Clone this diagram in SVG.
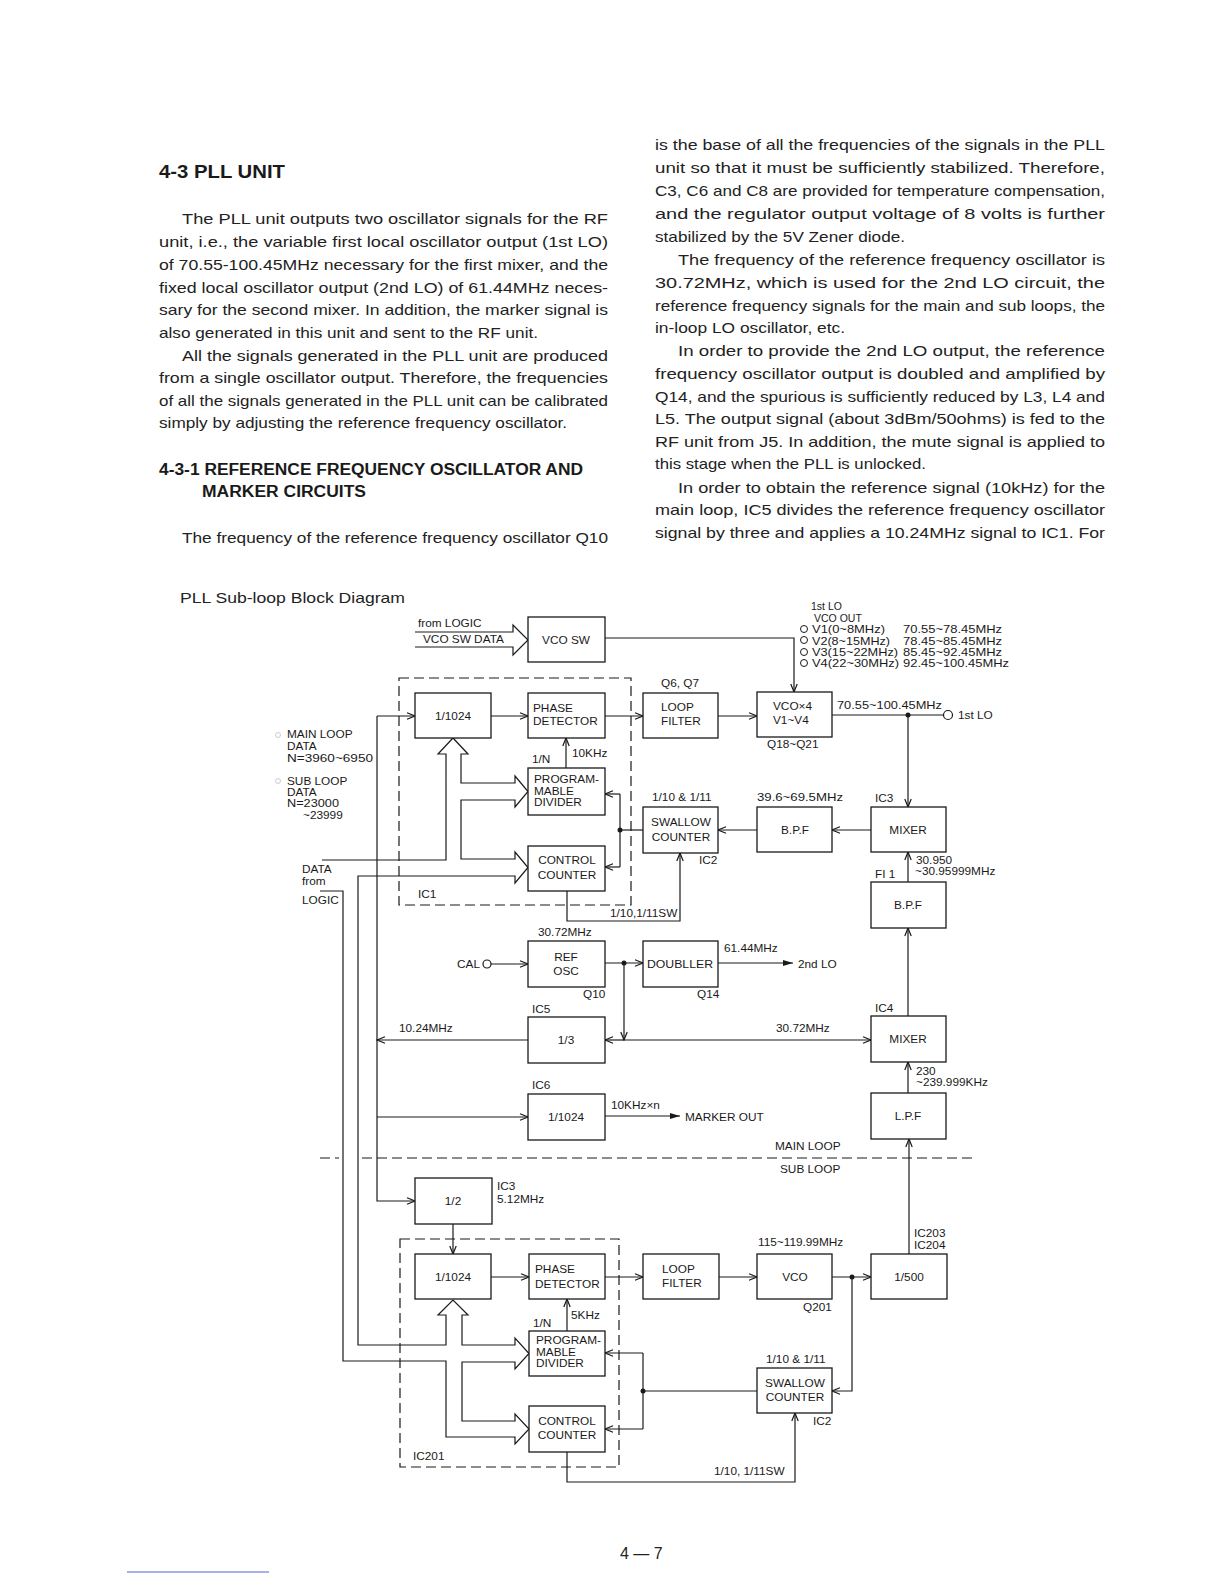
<svg xmlns="http://www.w3.org/2000/svg" width="1224" height="1584" viewBox="0 0 1224 1584">
<defs>
<style>
.body{font-family:"Liberation Sans",Arial,sans-serif;font-size:15px;fill:#222}
.hd{font-family:"Liberation Sans",Arial,sans-serif;font-weight:bold;fill:#1a1a1a}
.t{font-family:"Liberation Sans",Arial,sans-serif;font-size:11.8px;fill:#1a1a1a}
.s{font-family:"Liberation Sans",Arial,sans-serif;font-size:10.5px;fill:#1a1a1a}
.m{text-anchor:middle}
.box{fill:#fff;stroke:#1a1a1a;stroke-width:1.3}
.w{fill:none;stroke:#1a1a1a;stroke-width:1.2}
.dash{fill:none;stroke:#1a1a1a;stroke-width:1.2;stroke-dasharray:10,5}
.dot{fill:#1a1a1a}
</style>
<marker id="a" markerWidth="10" markerHeight="8" refX="9" refY="4" orient="auto" markerUnits="userSpaceOnUse"><path d="M1,0.8 L9,4 L1,7.2" fill="none" stroke="#1a1a1a" stroke-width="1.2"/></marker>
<marker id="f" markerWidth="11" markerHeight="8" refX="10" refY="4" orient="auto" markerUnits="userSpaceOnUse"><path d="M0,1 L10,4 L0,7 Z" fill="#1a1a1a"/></marker>
</defs>
<rect width="1224" height="1584" fill="#fff"/>

<g id="text-col1">
<text class="hd" x="159" y="178" font-size="19" textLength="126" lengthAdjust="spacingAndGlyphs">4-3 PLL UNIT</text>
<text class="body" x="182" y="224" textLength="426" lengthAdjust="spacingAndGlyphs">The PLL unit outputs two oscillator signals for the RF</text>
<text class="body" x="159" y="247" textLength="449" lengthAdjust="spacingAndGlyphs">unit, i.e., the variable first local oscillator output (1st LO)</text>
<text class="body" x="159" y="270" textLength="449" lengthAdjust="spacingAndGlyphs">of 70.55-100.45MHz necessary for the first mixer, and the</text>
<text class="body" x="159" y="293" textLength="449" lengthAdjust="spacingAndGlyphs">fixed local oscillator output (2nd LO) of 61.44MHz neces-</text>
<text class="body" x="159" y="315" textLength="449" lengthAdjust="spacingAndGlyphs">sary for the second mixer. In addition, the marker signal is</text>
<text class="body" x="159" y="338" textLength="379" lengthAdjust="spacingAndGlyphs">also generated in this unit and sent to the RF unit.</text>
<text class="body" x="182" y="361" textLength="426" lengthAdjust="spacingAndGlyphs">All the signals generated in the PLL unit are produced</text>
<text class="body" x="159" y="383" textLength="449" lengthAdjust="spacingAndGlyphs">from a single oscillator output. Therefore, the frequencies</text>
<text class="body" x="159" y="406" textLength="449" lengthAdjust="spacingAndGlyphs">of all the signals generated in the PLL unit can be calibrated</text>
<text class="body" x="159" y="428" textLength="408" lengthAdjust="spacingAndGlyphs">simply by adjusting the reference frequency oscillator.</text>
<text class="hd" x="159" y="475" font-size="16" textLength="424" lengthAdjust="spacingAndGlyphs">4-3-1 REFERENCE FREQUENCY OSCILLATOR AND</text>
<text class="hd" x="202" y="497" font-size="16" textLength="164" lengthAdjust="spacingAndGlyphs">MARKER CIRCUITS</text>
<text class="body" x="182" y="543" textLength="426" lengthAdjust="spacingAndGlyphs">The frequency of the reference frequency oscillator Q10</text>
</g>

<g id="text-col2">
<text class="body" x="655" y="150" textLength="450" lengthAdjust="spacingAndGlyphs">is the base of all the frequencies of the signals in the PLL</text>
<text class="body" x="655" y="173" textLength="450" lengthAdjust="spacingAndGlyphs">unit so that it must be sufficiently stabilized. Therefore,</text>
<text class="body" x="655" y="196" textLength="450" lengthAdjust="spacingAndGlyphs">C3, C6 and C8 are provided for temperature compensation,</text>
<text class="body" x="655" y="219" textLength="450" lengthAdjust="spacingAndGlyphs">and the regulator output voltage of 8 volts is further</text>
<text class="body" x="655" y="242" textLength="250" lengthAdjust="spacingAndGlyphs">stabilized by the 5V Zener diode.</text>
<text class="body" x="678" y="265" textLength="427" lengthAdjust="spacingAndGlyphs">The frequency of the reference frequency oscillator is</text>
<text class="body" x="655" y="288" textLength="450" lengthAdjust="spacingAndGlyphs">30.72MHz, which is used for the 2nd LO circuit, the</text>
<text class="body" x="655" y="311" textLength="450" lengthAdjust="spacingAndGlyphs">reference frequency signals for the main and sub loops, the</text>
<text class="body" x="655" y="333" textLength="190" lengthAdjust="spacingAndGlyphs">in-loop LO oscillator, etc.</text>
<text class="body" x="678" y="356" textLength="427" lengthAdjust="spacingAndGlyphs">In order to provide the 2nd LO output, the reference</text>
<text class="body" x="655" y="379" textLength="450" lengthAdjust="spacingAndGlyphs">frequency oscillator output is doubled and amplified by</text>
<text class="body" x="655" y="402" textLength="450" lengthAdjust="spacingAndGlyphs">Q14, and the spurious is sufficiently reduced by L3, L4 and</text>
<text class="body" x="655" y="424" textLength="450" lengthAdjust="spacingAndGlyphs">L5. The output signal (about 3dBm/50ohms) is fed to the</text>
<text class="body" x="655" y="447" textLength="450" lengthAdjust="spacingAndGlyphs">RF unit from J5. In addition, the mute signal is applied to</text>
<text class="body" x="655" y="469" textLength="271" lengthAdjust="spacingAndGlyphs">this stage when the PLL is unlocked.</text>
<text class="body" x="678" y="493" textLength="427" lengthAdjust="spacingAndGlyphs">In order to obtain the reference signal (10kHz) for the</text>
<text class="body" x="655" y="515" textLength="450" lengthAdjust="spacingAndGlyphs">main loop, IC5 divides the reference frequency oscillator</text>
<text class="body" x="655" y="538" textLength="450" lengthAdjust="spacingAndGlyphs">signal by three and applies a 10.24MHz signal to IC1. For</text>
</g>

<text class="body" x="180" y="603" textLength="225" lengthAdjust="spacingAndGlyphs">PLL  Sub-loop Block Diagram</text>

<g id="connectors">
<rect class="dash" x="399" y="678" width="232" height="227"/>
<rect class="dash" x="400" y="1239" width="219" height="228"/>
<path class="dash" d="M320,1158 H339 M362,1158 H977" stroke-dasharray="16,8"/>
<path class="w" d="M415,632 H513 V625 L528,640 L513,655 V647 H415"/>
<path class="w" d="M322,860 H446 V754 H438 L453,738 L468,754 H461 V783 H515 V776 L528,791.5 L515,807 V800 H461 V859 H515 V852 L528,867.5 L515,883 V876 H358 V1345 H446 V1315 H438 L453,1300 L468,1315 H462 V1345 H515 V1338 L529,1353.5 L515,1369 V1362 H462 V1421 H515 V1414 L529,1429 L515,1444 V1437 H446 V1361 H343 V891 H320"/>
<path class="w" marker-end="url(#a)" d="M605,638 H794 V692"/>
<path class="w" marker-end="url(#a)" d="M491,716 H528"/>
<path class="w" marker-end="url(#a)" d="M605,716 H643"/>
<path class="w" marker-end="url(#a)" d="M718,716 H757"/>
<path class="w" d="M832,715 H943.5"/>
<circle cx="948" cy="715" r="4.5" fill="#fff" stroke="#1a1a1a" stroke-width="1.2"/>
<circle class="dot" cx="908" cy="715" r="2.5"/>
<path class="w" marker-end="url(#a)" d="M908,715 V807"/>
<path class="w" marker-end="url(#a)" d="M871,830 H832"/>
<path class="w" marker-end="url(#a)" d="M757,830 H718"/>
<path class="w" d="M643,830 H620"/>
<circle class="dot" cx="620" cy="830" r="2.5"/>
<path class="w" d="M620,794 V867"/>
<path class="w" marker-end="url(#a)" d="M620,794 H605"/>
<path class="w" marker-end="url(#a)" d="M620,867 H605"/>
<path class="w" marker-end="url(#a)" d="M566,768 V738"/>
<path class="w" marker-end="url(#a)" d="M567,891 V921 H680 V853"/>
<path class="w" marker-end="url(#a)" d="M908,882 V852"/>
<path class="w" marker-end="url(#a)" d="M908,1016 V928"/>
<path class="w" marker-end="url(#a)" d="M908,1093 V1062"/>
<path class="w" marker-end="url(#a)" d="M909,1254 V1139"/>
<circle cx="487" cy="964" r="4" fill="#fff" stroke="#1a1a1a" stroke-width="1.2"/>
<path class="w" marker-end="url(#a)" d="M491,964 H528"/>
<path class="w" marker-end="url(#a)" d="M605,963 H643"/>
<circle class="dot" cx="624" cy="963" r="2.5"/>
<path class="w" marker-end="url(#a)" d="M624,963 V1040"/>
<path class="w" marker-end="url(#a)" d="M624,1040 H605"/>
<path class="w" marker-end="url(#a)" d="M624,1040 H871"/>
<path class="w" marker-end="url(#f)" d="M718,963 H793"/>
<path class="w" marker-end="url(#a)" d="M528,1040 H377"/>
<path class="w" marker-end="url(#a)" d="M377,716 H415"/>
<path class="w" marker-end="url(#a)" d="M377,716 V1201 H415"/>
<path class="w" marker-end="url(#a)" d="M377,1117 H528"/>
<path class="w" marker-end="url(#f)" d="M605,1116 H680"/>
<path class="w" marker-end="url(#a)" d="M453,1224 V1254"/>
<path class="w" marker-end="url(#a)" d="M491,1277 H529"/>
<path class="w" marker-end="url(#a)" d="M605,1277 H643"/>
<path class="w" marker-end="url(#a)" d="M719,1277 H757"/>
<path class="w" marker-end="url(#a)" d="M832,1277 H871"/>
<circle class="dot" cx="852" cy="1277" r="2.5"/>
<path class="w" marker-end="url(#a)" d="M852,1277 V1391 H832"/>
<path class="w" d="M757,1391 H643"/>
<circle class="dot" cx="643" cy="1391" r="2.5"/>
<path class="w" d="M643,1353 V1429"/>
<path class="w" marker-end="url(#a)" d="M643,1353 H605"/>
<path class="w" marker-end="url(#a)" d="M643,1429 H605"/>
<path class="w" marker-end="url(#a)" d="M567,1331 V1299"/>
<path class="w" marker-end="url(#a)" d="M567,1452 V1482 H795 V1413"/>
</g>

<g id="n-vcosw"><rect class="box" x="528" y="617" width="77" height="45"/><text class="t m" x="566" y="644">VCO SW</text></g>
<g id="n-div1024-main"><rect class="box" x="415" y="693" width="76" height="45"/><text class="t m" x="453" y="720">1/1024</text></g>
<g id="n-pd-main"><rect class="box" x="528" y="693" width="77" height="45"/><text class="t" x="533" y="712">PHASE</text><text class="t" x="533" y="725">DETECTOR</text></g>
<g id="n-prog-main"><rect class="box" x="528" y="768" width="77" height="47"/><text class="t" x="534" y="783">PROGRAM-</text><text class="t" x="534" y="795">MABLE</text><text class="t" x="534" y="806">DIVIDER</text></g>
<g id="n-cc-main"><rect class="box" x="528" y="846" width="77" height="45"/><text class="t m" x="567" y="864">CONTROL</text><text class="t m" x="567" y="879">COUNTER</text></g>
<g id="n-lf-main"><rect class="box" x="643" y="693" width="75" height="45"/><text class="t" x="661" y="711">LOOP</text><text class="t" x="661" y="725">FILTER</text></g>
<g id="n-vco4"><rect class="box" x="757" y="692" width="75" height="45"/><text class="t" x="773" y="710">VCO×4</text><text class="t" x="773" y="724">V1~V4</text></g>
<g id="n-sw-main"><rect class="box" x="643" y="807" width="75" height="46"/><text class="t m" x="681" y="826">SWALLOW</text><text class="t m" x="681" y="841">COUNTER</text></g>
<g id="n-bpf1"><rect class="box" x="757" y="807" width="75" height="45"/><text class="t m" x="795" y="834">B.P.F</text></g>
<g id="n-mix1"><rect class="box" x="871" y="807" width="75" height="45"/><text class="t m" x="908" y="834">MIXER</text></g>
<g id="n-bpf2"><rect class="box" x="871" y="882" width="75" height="46"/><text class="t m" x="908" y="909">B.P.F</text></g>
<g id="n-refosc"><rect class="box" x="528" y="941" width="77" height="46"/><text class="t m" x="566" y="961">REF</text><text class="t m" x="566" y="975">OSC</text></g>
<g id="n-doubler"><rect class="box" x="643" y="941" width="75" height="46"/><text class="t m" x="680" y="968" textLength="66" lengthAdjust="spacingAndGlyphs">DOUBLLER</text></g>
<g id="n-div3"><rect class="box" x="528" y="1017" width="77" height="46"/><text class="t m" x="566" y="1044">1/3</text></g>
<g id="n-mix2"><rect class="box" x="871" y="1016" width="75" height="46"/><text class="t m" x="908" y="1043">MIXER</text></g>
<g id="n-div1024-marker"><rect class="box" x="528" y="1094" width="77" height="46"/><text class="t m" x="566" y="1121">1/1024</text></g>
<g id="n-lpf"><rect class="box" x="871" y="1093" width="75" height="46"/><text class="t m" x="908" y="1120">L.P.F</text></g>
<g id="n-div2"><rect class="box" x="415" y="1178" width="77" height="46"/><text class="t m" x="453" y="1205">1/2</text></g>
<g id="n-div1024-sub"><rect class="box" x="415" y="1254" width="76" height="45"/><text class="t m" x="453" y="1281">1/1024</text></g>
<g id="n-pd-sub"><rect class="box" x="529" y="1254" width="76" height="45"/><text class="t" x="535" y="1273">PHASE</text><text class="t" x="535" y="1288">DETECTOR</text></g>
<g id="n-prog-sub"><rect class="box" x="529" y="1331" width="76" height="45"/><text class="t" x="536" y="1344">PROGRAM-</text><text class="t" x="536" y="1356">MABLE</text><text class="t" x="536" y="1367">DIVIDER</text></g>
<g id="n-cc-sub"><rect class="box" x="529" y="1406" width="76" height="46"/><text class="t m" x="567" y="1425">CONTROL</text><text class="t m" x="567" y="1439">COUNTER</text></g>
<g id="n-lf-sub"><rect class="box" x="643" y="1254" width="76" height="45"/><text class="t" x="662" y="1273">LOOP</text><text class="t" x="662" y="1287">FILTER</text></g>
<g id="n-vco-sub"><rect class="box" x="757" y="1254" width="75" height="45"/><text class="t m" x="795" y="1281">VCO</text></g>
<g id="n-div500"><rect class="box" x="871" y="1254" width="76" height="45"/><text class="t m" x="909" y="1281">1/500</text></g>
<g id="n-sw-sub"><rect class="box" x="757" y="1368" width="75" height="45"/><text class="t m" x="795" y="1387">SWALLOW</text><text class="t m" x="795" y="1401">COUNTER</text></g>

<g id="labels">
<text class="t" x="418" y="627">from LOGIC</text>
<text class="t" x="423" y="643">VCO SW DATA</text>
<text class="s" x="811" y="610">1st LO</text>
<text class="s" x="814" y="622">VCO OUT</text>
<circle cx="804" cy="629" r="3.5" fill="none" stroke="#1a1a1a" stroke-width="1"/>
<circle cx="804" cy="640" r="3.5" fill="none" stroke="#1a1a1a" stroke-width="1"/>
<circle cx="804" cy="652" r="3.5" fill="none" stroke="#1a1a1a" stroke-width="1"/>
<circle cx="804" cy="663" r="3.5" fill="none" stroke="#1a1a1a" stroke-width="1"/>
<text class="s" x="812" y="633" textLength="73" lengthAdjust="spacingAndGlyphs">V1(0~8MHz)</text>
<text class="s" x="812" y="645" textLength="78" lengthAdjust="spacingAndGlyphs">V2(8~15MHz)</text>
<text class="s" x="812" y="656" textLength="86" lengthAdjust="spacingAndGlyphs">V3(15~22MHz)</text>
<text class="s" x="812" y="667" textLength="87" lengthAdjust="spacingAndGlyphs">V4(22~30MHz)</text>
<text class="s" x="903" y="633" textLength="99" lengthAdjust="spacingAndGlyphs">70.55~78.45MHz</text>
<text class="s" x="903" y="645" textLength="99" lengthAdjust="spacingAndGlyphs">78.45~85.45MHz</text>
<text class="s" x="903" y="656" textLength="99" lengthAdjust="spacingAndGlyphs">85.45~92.45MHz</text>
<text class="s" x="903" y="667" textLength="106" lengthAdjust="spacingAndGlyphs">92.45~100.45MHz</text>
<circle cx="278" cy="735" r="2.5" fill="none" stroke="#ccc" stroke-width="1"/>
<circle cx="278" cy="781" r="2.5" fill="none" stroke="#ccc" stroke-width="1"/>
<text class="t" x="287" y="738">MAIN LOOP</text>
<text class="t" x="287" y="750">DATA</text>
<text class="t" x="287" y="762" textLength="86" lengthAdjust="spacingAndGlyphs">N=3960~6950</text>
<text class="t" x="287" y="785">SUB LOOP</text>
<text class="t" x="287" y="796">DATA</text>
<text class="t" x="287" y="807" textLength="52" lengthAdjust="spacingAndGlyphs">N=23000</text>
<text class="t" x="303" y="819">~23999</text>
<text class="t" x="302" y="873">DATA</text>
<text class="t" x="302" y="885">from</text>
<text class="t" x="302" y="904">LOGIC</text>
<text class="t" x="532" y="763">1/N</text>
<text class="t" x="572" y="757">10KHz</text>
<text class="t" x="418" y="898">IC1</text>
<text class="t" x="610" y="917">1/10,1/11SW</text>
<text class="t" x="661" y="687">Q6, Q7</text>
<text class="t" x="767" y="748">Q18~Q21</text>
<text class="t" x="837" y="709" textLength="105" lengthAdjust="spacingAndGlyphs">70.55~100.45MHz</text>
<text class="t" x="958" y="719">1st LO</text>
<text class="t" x="875" y="802">IC3</text>
<text class="t" x="757" y="801" textLength="86" lengthAdjust="spacingAndGlyphs">39.6~69.5MHz</text>
<text class="t" x="652" y="801">1/10 &amp; 1/11</text>
<text class="t" x="699" y="864">IC2</text>
<text class="t" x="916" y="864">30.950</text>
<text class="t" x="915" y="875">~30.95999MHz</text>
<text class="t" x="875" y="878">FI 1</text>
<text class="t" x="538" y="936">30.72MHz</text>
<text class="t" x="457" y="968">CAL</text>
<text class="t" x="583" y="998">Q10</text>
<text class="t" x="724" y="952">61.44MHz</text>
<text class="t" x="798" y="968">2nd LO</text>
<text class="t" x="697" y="998">Q14</text>
<text class="t" x="532" y="1013">IC5</text>
<text class="t" x="399" y="1032">10.24MHz</text>
<text class="t" x="875" y="1012">IC4</text>
<text class="t" x="776" y="1032">30.72MHz</text>
<text class="t" x="916" y="1075">230</text>
<text class="t" x="916" y="1086">~239.999KHz</text>
<text class="t" x="532" y="1089">IC6</text>
<text class="t" x="611" y="1109">10KHz×n</text>
<text class="t" x="685" y="1121">MARKER OUT</text>
<text class="t" x="775" y="1150">MAIN LOOP</text>
<text class="t" x="780" y="1173">SUB LOOP</text>
<text class="t" x="497" y="1190">IC3</text>
<text class="t" x="497" y="1203">5.12MHz</text>
<text class="t" x="914" y="1237">IC203</text>
<text class="t" x="914" y="1249">IC204</text>
<text class="t" x="758" y="1246">115~119.99MHz</text>
<text class="t" x="803" y="1311">Q201</text>
<text class="t" x="571" y="1319">5KHz</text>
<text class="t" x="533" y="1327">1/N</text>
<text class="t" x="766" y="1363">1/10 &amp; 1/11</text>
<text class="t" x="813" y="1425">IC2</text>
<text class="t" x="413" y="1460">IC201</text>
<text class="t" x="714" y="1475">1/10, 1/11SW</text>
</g>

<text x="620" y="1559" font-family="Liberation Sans, Arial, sans-serif" font-size="16" fill="#222">4 — 7</text>
<line x1="127" y1="1572" x2="269" y2="1572" stroke="#4a66cc" stroke-width="1"/>
</svg>
